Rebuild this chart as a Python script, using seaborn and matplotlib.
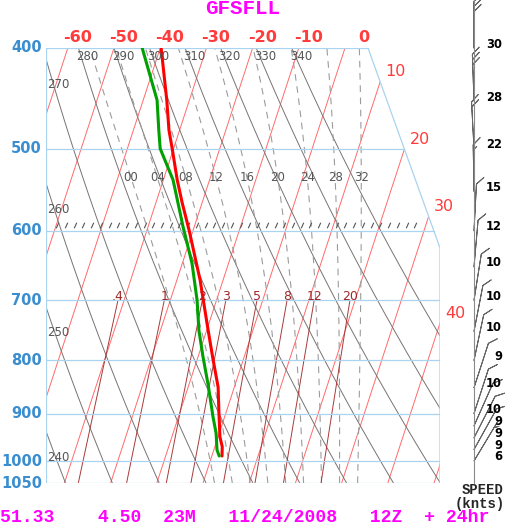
import numpy as np
import pandas as pd
import matplotlib
matplotlib.use("Agg")
import matplotlib.pyplot as plt
from matplotlib.patches import Polygon
from matplotlib.path import Path
import seaborn as sns

# ---- sounding (hPa, degC) ----
temp_pres = [989, 969, 948, 899, 849, 796, 748, 669, 599, 564, 536, 500, 480, 449, 400]
temp_c = [2.2, 1.6, 0.4, -1.5, -3.5, -6.7, -9.7, -15.0, -20.9, -24.3, -27.0, -30.3, -32.3, -34.9, -39.8]
dew_pres = [989, 976, 940, 907, 845, 794, 748, 700, 645, 595, 536, 500, 480, 449, 400]
dew_c = [1.6, 0.7, -0.7, -2.5, -5.8, -8.9, -11.7, -14.2, -17.9, -22.4, -27.9, -32.9, -34.5, -37.0, -43.9]

# ---- winds (knots, direction from) ----
wind_pres = [400, 450, 500, 550, 600, 650, 700, 750, 800, 850, 900, 925, 950, 975, 1000]
wind_spd = [30, 28, 22, 15, 12, 10, 10, 10, 9, 10, 10, 9, 9, 9, 6]
wind_dir = [0, 358, 357, 359, 3, 5, 9, 11, 12, 18, 18, 24, 27, 29, 31]

# ---- background line sets and labels ----
pressure_lines = [500, 600, 700, 800, 900, 1000]
pressure_labels = [400, 500, 600, 700, 800, 900, 1000, 1050]
isotherms = list(range(-100, 61, 10))
top_iso_labels = [-60, -50, -40, -30, -20, -10, 0]
side_iso_labels = [10, 20, 30, 40]
dry_thetas = list(range(240, 341, 10))
top_theta_labels = [280, 290, 300, 310, 320, 330, 340]
side_theta_labels = [270, 260, 250, 240]
moist_tw = [0, 4, 8, 12, 16, 20, 24, 28, 32]
mix_ratios = [0.4, 1, 2, 3, 5, 8, 12, 20]
mix_labels = [".4", "1", "2", "3", "5", "8", "12", "20"]
hatch_level = 593
hatch_span = (-62.3, 15.2)

P_TOP, P_BOT = 400, 1050
SKEW = 31.84
X_MIN, X_MAX = -64.72, 20.56
X_CORNER, P_BREAK = 4.98, 623.4


def skew_x(t, p):
    return np.asarray(t) - SKEW * np.log(np.asarray(p, dtype=float) / P_TOP)


def boundary_x(p):
    p = np.asarray(p, dtype=float)
    frac = np.log(p / P_TOP) / np.log(P_BREAK / P_TOP)
    return np.where(p < P_BREAK, X_CORNER + (X_MAX - X_CORNER) * frac, X_MAX)


def moist_adiabat(tw, p_levels):
    rd, cp, lv, eps = 287.04, 1005.7, 2.501e6, 0.622

    def lapse(t, pp):
        tc = t - 273.15
        es = 6.112 * np.exp(17.67 * tc / (tc + 243.5))
        rs = eps * es / (pp - es)
        return (rd * t + lv * rs) / (pp * (cp + lv * lv * rs * eps / (rd * t * t)))

    out = [tw + 273.15]
    for p0, p1 in zip(p_levels[:-1], p_levels[1:]):
        t0 = out[-1]
        dp = p1 - p0
        k1 = lapse(t0, p0)
        k2 = lapse(t0 + k1 * dp, p1)
        out.append(t0 + 0.5 * (k1 + k2) * dp)
    return np.array(out) - 273.15


sns.set_style("white")
plt.rcParams["font.family"] = ["DejaVu Sans"]

fig = plt.figure(figsize=(5.06, 5.27), dpi=100)
ax = fig.add_axes([46 / 506, 1 - 483 / 527, 394 / 506, 435 / 527])
ax.set_yscale("log")
ax.set_ylim(P_BOT, P_TOP)
ax.set_xlim(X_MIN, X_MAX)
ax.set_xticks([])
ax.set_yticks([])
ax.set_yticks([], minor=True)
for s in ax.spines.values():
    s.set_visible(False)

clip = Polygon([(X_MIN, P_BOT), (X_MAX, P_BOT), (X_MAX, P_BREAK),
                (X_CORNER, P_TOP), (X_MIN, P_TOP)], closed=True,
               transform=ax.transData)

p_grid = np.linspace(P_TOP, P_BOT, 400)

# isotherms
for t in isotherms:
    ln, = ax.plot(skew_x(t, p_grid), p_grid, color="#ff6a6a", lw=0.7)
    ln.set_clip_path(clip)

# dry adiabats
for th in dry_thetas:
    tt = th * (p_grid / 1000.0) ** 0.286 - 273.15
    ln, = ax.plot(skew_x(tt, p_grid), p_grid, color="#7a7272", lw=0.7)
    ln.set_clip_path(clip)

# moist adiabats
p_up = np.arange(1000, 399, -2.0)
p_dn = np.arange(1000, 1051, 2.0)
for tw in moist_tw:
    tu = moist_adiabat(tw, p_up)
    td = moist_adiabat(tw, p_dn)
    pp = np.concatenate([p_dn[::-1], p_up[1:]])
    tt = np.concatenate([td[::-1], tu[1:]])
    ln, = ax.plot(skew_x(tt, pp), pp, color="#9c9c9c", lw=0.8, ls=(0, (6, 5)))
    ln.set_clip_path(clip)

# mixing ratio lines
p_mix = np.linspace(700, P_BOT, 100)
for w in mix_ratios:
    e = w / 1000 * p_mix / (0.622 + w / 1000)
    a = np.log(e / 6.112)
    td = 243.5 * a / (17.67 - a)
    ln, = ax.plot(skew_x(td, p_mix), p_mix, color="#a83a3a", lw=0.7)
    ln.set_clip_path(clip)

# frame and pressure lines
frame_c = "#a9d3ee"
for p in pressure_lines:
    ax.plot([X_MIN, float(boundary_x(p))], [p, p], color=frame_c, lw=0.9)
ax.plot([X_MIN, X_CORNER], [P_TOP, P_TOP], color=frame_c, lw=0.9)
ax.plot([X_MIN, X_MAX], [P_BOT, P_BOT], color=frame_c, lw=0.9)
ax.plot([X_MIN, X_MIN], [P_TOP, P_BOT], color=frame_c, lw=0.9)
ax.plot([X_CORNER, X_MAX, X_MAX], [P_TOP, P_BREAK, P_BOT], color=frame_c, lw=0.9)

# hatch row along 600 hPa
slash = Path([(-0.45, -1), (0.45, 1)], [Path.MOVETO, Path.LINETO])
hx = np.linspace(hatch_span[0], hatch_span[1], 42)
ax.plot(hx, np.full(hx.size, hatch_level), ls="none", marker=slash, ms=4,
        mew=0.8, color="#555555")

# profiles
prof_t = pd.DataFrame({"x": skew_x(temp_c, temp_pres), "p": temp_pres})
prof_d = pd.DataFrame({"x": skew_x(dew_c, dew_pres), "p": dew_pres})
sns.lineplot(data=prof_t, x="x", y="p", sort=False, estimator=None,
             color="#ff0000", lw=2.2, ax=ax)
sns.lineplot(data=prof_d, x="x", y="p", sort=False, estimator=None,
             color="#00a000", lw=2.2, ax=ax)
ax.set_xlabel("")
ax.set_ylabel("")
ax.set_xlim(X_MIN, X_MAX)
ax.set_ylim(P_BOT, P_TOP)

# ---- labels ----
for p in pressure_labels:
    ax.annotate(str(p), (X_MIN, p), xytext=(-4, 0), textcoords="offset pixels",
                ha="right", va="center", fontsize=10.5, fontweight="bold",
                color="#3a8ed0", annotation_clip=False)

for t in top_iso_labels:
    ax.annotate(str(t), (t, P_TOP), xytext=(24, 11), textcoords="offset pixels",
                ha="right", va="center", fontsize=11.5, fontweight="bold",
                color="#ff3b3b", annotation_clip=False)

for t in side_iso_labels:
    lnp = (t - X_CORNER) / (SKEW + (X_MAX - X_CORNER) / np.log(P_BREAK / P_TOP))
    pc = P_TOP * np.exp(lnp)
    if pc > P_BREAK:
        pc = P_TOP * np.exp((t - X_MAX) / SKEW)
    ax.annotate(str(t), (float(skew_x(t, pc)), pc), xytext=(5, 10),
                textcoords="offset pixels", ha="left", va="center",
                fontsize=11.5, color="#ff3b3b", annotation_clip=False)

for th in top_theta_labels:
    x0 = th * (P_TOP / 1000.0) ** 0.286 - 273.15
    ax.annotate(str(th), (x0, P_TOP), xytext=(-2, -9), textcoords="offset pixels",
                ha="left", va="center", fontsize=8.5, color="#555555")

p_fine = np.linspace(P_TOP, P_BOT, 3000)
for th in side_theta_labels:
    xg = skew_x(th * (p_fine / 1000.0) ** 0.286 - 273.15, p_fine)
    pc = np.interp(X_MIN, xg, p_fine)
    ax.annotate(str(th), (X_MIN, pc), xytext=(1, -26), textcoords="offset pixels",
                ha="left", va="center", fontsize=8.5, color="#555555")

for tw in moist_tw:
    tu = moist_adiabat(tw, p_up)
    pl = 533
    xl = float(np.interp(pl, p_up[::-1], skew_x(tu, p_up)[::-1]))
    ax.text(xl, pl, f"{tw:02d}", ha="center", va="center", fontsize=8.5,
            color="#555555")

for w, lab in zip(mix_ratios, mix_labels):
    e = w / 1000 * 700 / (0.622 + w / 1000)
    a = np.log(e / 6.112)
    td = 243.5 * a / (17.67 - a)
    ax.annotate(lab, (float(skew_x(td, 700)), 700), xytext=(0, 4),
                textcoords="offset pixels", ha="center", va="center",
                fontsize=9, color="#a02828")

# ---- wind column ----
w_top = P_TOP * np.exp(-48 / 450.7)
w_bot = P_TOP * np.exp(479 / 450.7)
axw = fig.add_axes([440 / 506, 0, 66 / 506, 1])
axw.set_yscale("log")
axw.set_ylim(w_bot, w_top)
axw.set_xlim(0, 66)
axw.axis("off")
axw.plot([34, 34], [w_top, P_BOT], color="#8a8a8a", lw=0.8)
rad = np.deg2rad(wind_dir)
u = -np.array(wind_spd) * np.sin(rad)
v = -np.array(wind_spd) * np.cos(rad)
axw.barbs(np.full(len(wind_pres), 34.0), wind_pres, u, v, length=8.2,
          pivot="tip", sizes=dict(spacing=0.11, height=0.15, width=0.3),
          lw=0.7, color="#666666", clip_on=False)
for p, s in zip(wind_pres, wind_spd):
    axw.annotate(str(s), (62, p), xytext=(0, 4), textcoords="offset pixels",
                 ha="right", va="center", fontsize=8.3, fontweight="bold",
                 color="black", annotation_clip=False)

mono = ["Liberation Mono", "DejaVu Sans Mono"]
fig.text(482.5 / 506, 1 - 490.5 / 527, "SPEED", ha="center", va="center",
         fontsize=10, fontweight="bold", family=mono)
fig.text(480 / 506, 1 - 504 / 527, "(knts)", ha="center", va="center",
         fontsize=10, fontweight="bold", family=mono)
fig.text(243 / 506, 1 - 8.5 / 527, "GFSFLL", ha="center", va="center",
         fontsize=15, fontweight="bold", color="#ff00ff", family=mono)
fig.text(0, 1 - 518 / 527, "51.33    4.50  23M   11/24/2008   12Z  + 24hr",
         ha="left", va="center", fontsize=13.1, fontweight="bold",
         color="#ff00ff", family=mono)

fig.savefig("out.png", dpi=100)
